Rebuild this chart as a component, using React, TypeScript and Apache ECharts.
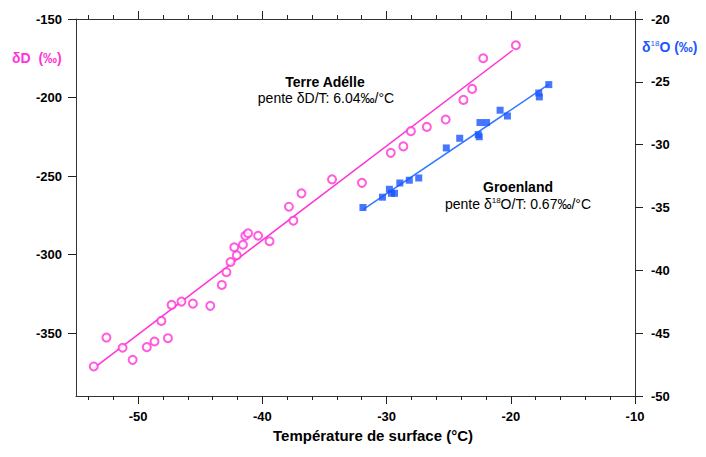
import React, { useEffect, useRef } from "react";
import * as echarts from "echarts";

// Terre Adélie: surface temperature (°C) vs δD (‰)
const adelieT = [
  -53.57, -52.55, -51.25, -50.44, -49.3, -48.68, -47.6, -48.13, -47.3, -46.51,
  -45.59, -44.19, -43.26, -42.89, -42.56, -42.06, -42.26, -41.56, -41.37, -41.15,
  -40.34, -39.42, -37.86, -37.5, -36.85, -34.39, -31.98, -29.66, -28.65, -28.04,
  -26.76, -25.24, -23.81, -23.11, -22.22, -19.59,
];
const adelieD = [
  -371.2, -352.8, -359.3, -367.0, -358.9, -355.3, -353.2, -342.2, -332.0, -329.9,
  -331.2, -332.6, -319.3, -311.2, -304.7, -300.4, -295.3, -293.7, -288.0, -286.4,
  -288.0, -291.5, -269.5, -278.4, -261.0, -252.1, -254.3, -235.2, -231.1, -221.4,
  -218.7, -214.0, -201.5, -194.5, -175.0, -166.7,
];
// Groenland: surface temperature (°C) vs δ18O (‰)
const greenT = [
  -31.9, -30.33, -29.77, -29.36, -29.6, -28.93, -28.17, -27.41, -25.19, -24.11,
  -22.62, -22.54, -22.48, -21.95, -20.86, -20.27, -17.75, -17.7, -16.94,
];
const greenO = [
  -35.0, -34.18, -33.55, -33.87, -33.87, -33.05, -32.83, -32.65, -30.26, -29.49,
  -29.2, -29.37, -28.24, -28.24, -27.26, -27.72, -25.89, -26.2, -25.22,
];
// regression lines (end points)
const adelieFitT = [-53.57, -19.84];
const adelieFitD = [-372.2, -169.9];
const greenFitT = [-31.9, -16.94];
const greenFitO = [-35.16, -25.2];

const xMajorTicks = [-50, -40, -30, -20, -10];
const xMinorTicks = [
  -54, -52, -48, -46, -44, -42, -38, -36, -34, -32, -28, -26, -24, -22, -18, -16, -14, -12,
];
const yLeftTicks = [-350, -300, -250, -200, -150];
const yRightTicks = [-50, -45, -40, -35, -30, -25, -20];

const MAGENTA = "#ff33d6";
const BLUE = "#1a55ff";
const FONT = "Liberation Sans, Arial, sans-serif";

export default function App() {
  const ref = useRef<HTMLDivElement>(null);
  useEffect(() => {
    document.body.style.margin = "0";
    const chart = echarts.init(ref.current!, null, { renderer: "svg" });
    const axisLine = { show: true, lineStyle: { color: "#333", width: 1 } };
    const tickStyle = { color: "#222", width: 1 };
    const labelStyle = { color: "#000", fontWeight: "bold" as const, fontSize: 13, fontFamily: FONT };
    const xBase = { type: "value" as const, min: -55, max: -10, splitLine: { show: false } };
    chart.setOption({
      animation: false,
      backgroundColor: "#fff",
      grid: { left: 76, right: 71, top: 19, bottom: 61 },
      xAxis: [
        {
          ...xBase,
          position: "bottom",
          axisLine,
          axisTick: { show: true, length: 8, customValues: xMajorTicks, lineStyle: tickStyle },
          axisLabel: { ...labelStyle, margin: 14, customValues: xMajorTicks },
        },
        {
          ...xBase,
          position: "top",
          axisLine,
          axisTick: { show: true, length: 8, customValues: xMajorTicks, lineStyle: tickStyle },
          axisLabel: { show: false },
        },
        {
          ...xBase,
          position: "bottom",
          axisLine: { show: false },
          axisTick: { show: true, length: 4, customValues: xMinorTicks, lineStyle: tickStyle },
          axisLabel: { show: false },
        },
        {
          ...xBase,
          position: "top",
          axisLine: { show: false },
          axisTick: { show: true, length: 4, customValues: xMinorTicks, lineStyle: tickStyle },
          axisLabel: { show: false },
        },
      ],
      yAxis: [
        {
          type: "value",
          position: "left",
          min: -390,
          max: -150,
          splitLine: { show: false },
          axisLine,
          axisTick: { show: true, length: 8, customValues: yLeftTicks, lineStyle: tickStyle },
          axisLabel: { ...labelStyle, margin: 14, customValues: yLeftTicks },
        },
        {
          type: "value",
          position: "right",
          min: -50,
          max: -20,
          splitLine: { show: false },
          axisLine,
          axisTick: { show: true, length: 8, customValues: yRightTicks, lineStyle: tickStyle },
          axisLabel: { ...labelStyle, margin: 16, customValues: yRightTicks },
        },
      ],
      series: [
        {
          type: "line",
          xAxisIndex: 0,
          yAxisIndex: 0,
          data: adelieFitT.map((t, i) => [t, adelieFitD[i]]),
          symbol: "none",
          lineStyle: { color: MAGENTA, width: 1.5 },
          z: 2,
        },
        {
          type: "scatter",
          xAxisIndex: 0,
          yAxisIndex: 0,
          data: adelieT.map((t, i) => [t, adelieD[i]]),
          symbol: "emptyCircle",
          symbolSize: 8,
          itemStyle: { color: MAGENTA, borderColor: MAGENTA, borderWidth: 1.6 },
          z: 3,
        },
        {
          type: "line",
          xAxisIndex: 0,
          yAxisIndex: 1,
          data: greenFitT.map((t, i) => [t, greenFitO[i]]),
          symbol: "none",
          lineStyle: { color: "#3377ff", width: 1.5 },
          z: 2,
        },
        {
          type: "scatter",
          xAxisIndex: 0,
          yAxisIndex: 1,
          data: greenT.map((t, i) => [t, greenO[i]]),
          symbol: "rect",
          symbolSize: 7,
          itemStyle: { color: BLUE },
          z: 3,
        },
      ],
      graphic: [
        {
          type: "text",
          x: 373,
          y: 435,
          style: {
            text: "Température de surface (°C)",
            fill: "#000",
            font: `bold 15px ${FONT}`,
            textAlign: "center",
            textVerticalAlign: "middle",
          },
        },
        {
          type: "text",
          x: 12,
          y: 58,
          style: {
            text: "δD  (‰)",
            fill: MAGENTA,
            font: `bold 14px ${FONT}`,
            textAlign: "left",
            textVerticalAlign: "middle",
          },
        },
        {
          type: "text",
          x: 642,
          y: 47,
          style: {
            text: "{a|δ}{s|18}{a|O (‰)}",
            textAlign: "left",
            textVerticalAlign: "middle",
            rich: {
              a: { fill: BLUE, fontSize: 14, fontWeight: "bold", fontFamily: FONT, lineHeight: 16 },
              s: { fill: BLUE, fontSize: 8, fontFamily: FONT, verticalAlign: "top", lineHeight: 16 },
            },
          },
        },
        {
          type: "text",
          x: 325,
          y: 82,
          style: {
            text: "Terre Adélle",
            fill: "#000",
            font: `bold 14px ${FONT}`,
            textAlign: "center",
            textVerticalAlign: "middle",
          },
        },
        {
          type: "text",
          x: 326,
          y: 98,
          style: {
            text: "pente δD/T: 6.04‰/°C",
            fill: "#000",
            font: `14px ${FONT}`,
            textAlign: "center",
            textVerticalAlign: "middle",
          },
        },
        {
          type: "text",
          x: 518,
          y: 187,
          style: {
            text: "Groenland",
            fill: "#000",
            font: `bold 14px ${FONT}`,
            textAlign: "center",
            textVerticalAlign: "middle",
          },
        },
        {
          type: "text",
          x: 518,
          y: 204,
          style: {
            text: "{n|pente δ}{s|18}{n|O/T: 0.67‰/°C}",
            textAlign: "center",
            textVerticalAlign: "middle",
            rich: {
              n: { fill: "#000", fontSize: 14, fontFamily: FONT, lineHeight: 16 },
              s: { fill: "#000", fontSize: 8, fontFamily: FONT, verticalAlign: "top", lineHeight: 16 },
            },
          },
        },
      ],
    });
    return () => chart.dispose();
  }, []);
  return <div ref={ref} style={{ width: 706, height: 457 }} />;
}
